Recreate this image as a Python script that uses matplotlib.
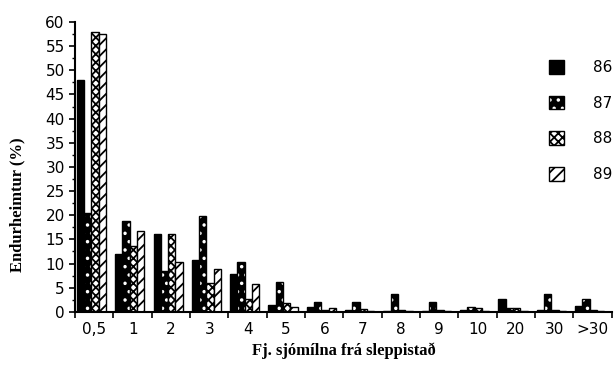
import matplotlib
matplotlib.use("Agg")
import matplotlib.pyplot as plt
import numpy as np

# distance categories and return rates (%) per release year
categories = ['0,5', '1', '2', '3', '4', '5', '6', '7', '8', '9', '10', '20', '30', '>30']
y86 = [48, 12.0, 16.1, 10.7, 7.8, 1.5, 1.1, 0.3, 0.2, 0.2, 0.3, 2.6, 0.4, 1.2]
y87 = [20.4, 18.8, 8.5, 19.9, 10.4, 6.1, 2.0, 2.0, 3.7, 2.0, 0.9, 0.8, 3.6, 2.6]
y88 = [58, 13.7, 16.1, 5.9, 2.7, 1.9, 0.3, 0.5, 0.4, 0.3, 0.8, 0.7, 0.3, 0.4]
y89 = [57.5, 16.8, 10.3, 8.8, 5.7, 1.0, 0.8, 0.2, 0.2, 0.2, 0.2, 0.2, 0.2, 0.2]
years = ['86', '87', '88', '89']

plt.rcParams['hatch.linewidth'] = 1.3

fig = plt.figure(figsize=(6.16, 3.66), dpi=100)
ax = fig.add_axes([0.122, 0.148, 0.871, 0.792])

series = [y86, y87, y88, y89]
# (face, hatch, hatch colour)
styles = [('black', '', 'black'),
          ('black', '..', 'white'),
          ('white', 'xxxx', 'black'),
          ('white', '///', 'black')]

w = 0.19
x = np.arange(len(categories))
handles = []
for i, (vals, (fc, hatch, hc)) in enumerate(zip(series, styles)):
    left = x + 0.045 + i * w
    b1 = ax.bar(left, vals, w, align='edge', color=fc, edgecolor=hc,
                hatch=hatch, linewidth=0)
    b2 = ax.bar(left, vals, w, align='edge', fill=False, edgecolor='black',
                linewidth=1)
    handles.append((b1[0], b2[0]))

ax.set_xlim(0, len(categories))
ax.set_ylim(0, 60)
ax.set_yticks(np.arange(0, 61, 5))
ax.set_yticks(np.arange(0, 60, 2.5), minor=True)
ax.set_xticks(np.arange(0, len(categories) + 1))
ax.set_xticklabels([])
ax.set_xticks(x + 0.5, minor=True)
ax.set_xticklabels(categories, minor=True)
ax.tick_params(axis='x', which='minor', length=0, pad=7, labelsize=11)
ax.tick_params(axis='x', which='major', length=4, width=1.2)
ax.tick_params(axis='y', which='major', length=4, width=1.2, labelsize=11)
ax.tick_params(axis='y', which='minor', length=2, width=1)

for s in ['top', 'right']:
    ax.spines[s].set_visible(False)
for s in ['left', 'bottom']:
    ax.spines[s].set_linewidth(1.5)

ax.set_xlabel('Fj. sjómílna frá sleppistað', family='Liberation Serif',
              fontweight='bold', fontsize=12, labelpad=4)
ax.set_ylabel('Endurheimtur (%)', family='Liberation Serif',
              fontweight='bold', fontsize=12)
ax.yaxis.set_label_coords(-0.092, 0.37)

ax.legend(handles, years, loc='upper left', bbox_to_anchor=(0.872, 0.89),
          frameon=False, fontsize=11, handlelength=1.0, handleheight=1.0,
          handletextpad=1.9, labelspacing=1.35, borderaxespad=0)

fig.savefig('out.png', dpi=100)
